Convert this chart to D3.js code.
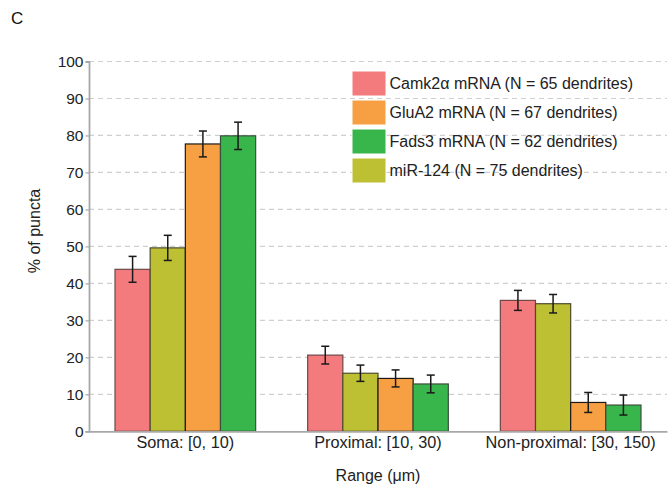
<!DOCTYPE html>
<html><head><meta charset="utf-8">
<script src="https://cdn.jsdelivr.net/npm/d3@7"></script>
<style>body{margin:0;background:#fff}svg{display:block;font-family:"Liberation Sans",Arial,sans-serif}</style>
</head><body>
<script>
const categories = ["Soma: [0, 10)", "Proximal: [10, 30)", "Non-proximal: [30, 150)"];
const seriesNames = ["Camk2α mRNA (N = 65 dendrites)", "GluA2 mRNA (N = 67 dendrites)", "Fads3 mRNA (N = 62 dendrites)", "miR-124 (N = 75 dendrites)"];
const barOrder = [0, 3, 1, 2]; // order of bars within each group
const camk2a = [43.8, 20.6, 35.4];
const camk2aErr = [3.5, 2.4, 2.7];
const glua2 = [77.7, 14.3, 7.8];
const glua2Err = [3.5, 2.3, 2.7];
const fads3 = [79.9, 12.8, 7.1];
const fads3Err = [3.7, 2.4, 2.7];
const mir124 = [49.6, 15.7, 34.5];
const mir124Err = [3.4, 2.2, 2.5];
const yTicks = [0, 10, 20, 30, 40, 50, 60, 70, 80, 90, 100];
const colors = ["#F47B7D", "#F7A043", "#38B54B", "#BEC034"];
const strokes = ["#6e4747", "#1a1a1a", "#3b4f3d", "#4b4b2a"];

const values = [camk2a, glua2, fads3, mir124];
const errs = [camk2aErr, glua2Err, fads3Err, mir124Err];

const W = 671, H = 491;
const m = {left: 89, right: 4, top: 61.5, bottom: 59.7};
const svg = d3.select("body").append("svg").attr("width", W).attr("height", H);

const x = d3.scaleBand().domain(categories).range([m.left, W - m.right]).paddingInner(0.27).paddingOuter(0.135);
const xi = d3.scaleBand().domain(barOrder).range([0, x.bandwidth()]);
const y = d3.scaleLinear().domain([0, 100]).range([H - m.bottom, m.top]);

// grid
svg.append("g").selectAll("line").data(yTicks.filter(d => d > 0)).join("line")
  .attr("x1", m.left).attr("x2", W - m.right)
  .attr("y1", d => y(d)).attr("y2", d => y(d))
  .attr("stroke", "#cfcfcf").attr("stroke-width", 1.2).attr("stroke-dasharray", "5,4");

// bars
const data = [];
categories.forEach((c, ci) => barOrder.forEach(si => data.push({c, si, v: values[si][ci], e: errs[si][ci]})));
const bars = svg.append("g");
bars.selectAll("rect").data(data).join("rect")
  .attr("x", d => x(d.c) + xi(d.si))
  .attr("y", d => y(d.v))
  .attr("width", xi.bandwidth())
  .attr("height", d => y(0) - y(d.v))
  .attr("fill", d => colors[d.si])
  .attr("stroke", d => strokes[d.si]).attr("stroke-width", 1.2);

// error bars
const eb = svg.append("g").attr("stroke", "#1a1a1a").attr("stroke-width", 1.5);
data.forEach(d => {
  const cx = x(d.c) + xi(d.si) + xi.bandwidth() / 2;
  eb.append("line").attr("x1", cx).attr("x2", cx).attr("y1", y(d.v + d.e)).attr("y2", y(d.v - d.e));
  eb.append("line").attr("x1", cx - 4).attr("x2", cx + 4).attr("y1", y(d.v + d.e)).attr("y2", y(d.v + d.e));
  eb.append("line").attr("x1", cx - 4).attr("x2", cx + 4).attr("y1", y(d.v - d.e)).attr("y2", y(d.v - d.e));
});

// y axis
const ya = svg.append("g").attr("transform", `translate(${m.left},0)`)
  .call(d3.axisLeft(y).tickValues(yTicks).tickSize(3.5).tickPadding(2));
ya.select(".domain").attr("stroke", "#a8a8a8").attr("stroke-width", 1.8);
ya.selectAll(".tick line").attr("stroke", "#a8a8a8").attr("stroke-width", 1.2);
ya.selectAll("text").attr("font-size", 15.5).attr("fill", "#222").attr("font-family", "Liberation Sans, Arial, sans-serif");

// x axis
const xa = svg.append("g").attr("transform", `translate(0,${y(0)})`)
  .call(d3.axisBottom(x).tickSize(0).tickPadding(5.5));
xa.select(".domain").attr("stroke", "#a8a8a8").attr("stroke-width", 1.8);
xa.selectAll("text").attr("font-size", 16.3).attr("fill", "#222").attr("font-family", "Liberation Sans, Arial, sans-serif");

// axis titles
svg.append("text").attr("transform", `translate(40,231) rotate(-90)`)
  .attr("text-anchor", "middle").attr("font-size", 16).attr("fill", "#222").text("% of puncta");
svg.append("text").attr("x", (m.left + W - m.right) / 2).attr("y", 481)
  .attr("text-anchor", "middle").attr("font-size", 16).attr("fill", "#222").text("Range (μm)");

// panel label
svg.append("text").attr("x", 11).attr("y", 24).attr("font-size", 17).attr("fill", "#111").text("C");

// legend
const lg = svg.append("g").attr("transform", "translate(352,71)");
seriesNames.forEach((name, i) => {
  const g = lg.append("g").attr("transform", `translate(0,${i * 29})`);
  g.append("rect").attr("width", 34).attr("height", 25).attr("fill", colors[i]).attr("stroke", "#fff").attr("stroke-width", 1);
  g.append("text").attr("x", 37.5).attr("y", 18).attr("font-size", 16).attr("fill", "#222").text(name);
});
</script>
</body></html>
